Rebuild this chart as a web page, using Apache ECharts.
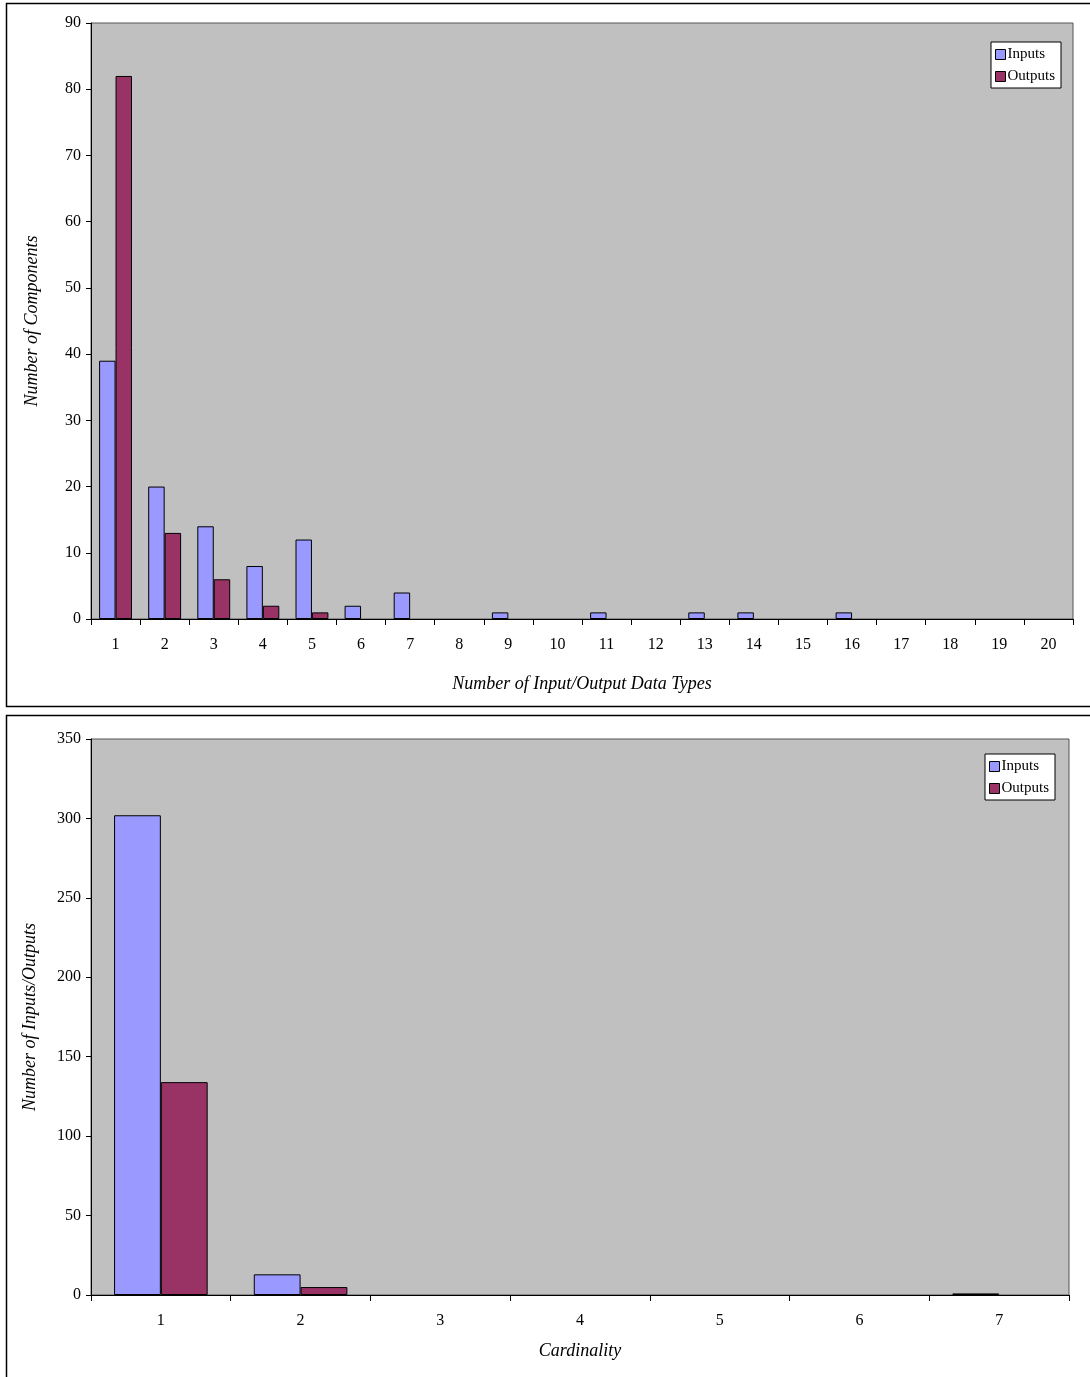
<!DOCTYPE html>
<html>
<head>
<meta charset="utf-8">
<script src="https://cdn.jsdelivr.net/npm/echarts@6/dist/echarts.min.js"></script>
<style>
  html, body { margin: 0; padding: 0; background: #fff; }
  #chart { width: 1090px; height: 1377px; }
</style>
</head>
<body>
<div id="chart"></div>
<script>
// Distribution of data type counts per component
const typeCountCategories = ['1','2','3','4','5','6','7','8','9','10','11','12','13','14','15','16','17','18','19','20'];
const typeCountInputs  = [39, 20, 14, 8, 12, 2, 4, 0, 1, 0, 1, 0, 1, 1, 0, 1, 0, 0, 0, 0];
const typeCountOutputs = [82, 13, 6, 2, 1, 0, 0, 0, 0, 0, 0, 0, 0, 0, 0, 0, 0, 0, 0, 0];

// Cardinality of inputs / outputs
const cardinalityCategories = ['1','2','3','4','5','6','7'];
const cardinalityInputs  = [302, 13, 0, 0, 0, 0, 1];
const cardinalityOutputs = [134, 5, 0, 0, 0, 0, 0];

const FONT = '"Liberation Serif", "Times New Roman", serif';
const INPUT_COLOR = '#9999FF';
const OUTPUT_COLOR = '#993366';

// Empty counts leave the slot blank instead of drawing a flat outlined bar
const blankZeros = arr => arr.map(v => (v === 0 ? null : v));

function xAxisFor(gridIndex, data, name, nameGap, margin) {
  return {
    type: 'category', gridIndex, data,
    name, nameLocation: 'middle', nameGap,
    nameTextStyle: { fontFamily: FONT, fontStyle: 'italic', fontSize: 18, color: '#000' },
    axisLine: { lineStyle: { color: '#000', width: 1 } },
    axisTick: { show: true, length: 6, lineStyle: { color: '#000' } },
    axisLabel: { fontFamily: FONT, fontSize: 16, color: '#000', margin },
    splitLine: { show: false }
  };
}
function yAxisFor(gridIndex, max, interval, name, nameGap) {
  return {
    type: 'value', gridIndex, min: 0, max, interval,
    name, nameLocation: 'middle', nameGap,
    nameTextStyle: { fontFamily: FONT, fontStyle: 'italic', fontSize: 18, color: '#000' },
    axisLine: { show: true, lineStyle: { color: '#000', width: 1 } },
    axisTick: { show: true, length: 5, lineStyle: { color: '#000' } },
    axisLabel: { fontFamily: FONT, fontSize: 16, color: '#000', margin: 10 },
    splitLine: { show: false }
  };
}
function barSeries(name, xi, yi, data, color) {
  return {
    type: 'bar', name, xAxisIndex: xi, yAxisIndex: yi, data: blankZeros(data),
    barGap: '0%', barCategoryGap: '33%',
    itemStyle: { color, borderColor: '#000', borderWidth: 1 },
    emphasis: { disabled: true },
    animation: false
  };
}
function legendAt(left, top) {
  return {
    orient: 'vertical', left, top,
    data: [
      { name: 'Inputs', itemStyle: { color: INPUT_COLOR, borderColor: '#000', borderWidth: 1 } },
      { name: 'Outputs', itemStyle: { color: OUTPUT_COLOR, borderColor: '#000', borderWidth: 1 } }
    ],
    icon: 'rect', itemWidth: 10, itemHeight: 10, itemGap: 7,
    padding: [5, 6, 4, 4],
    backgroundColor: '#fff', borderColor: '#000', borderWidth: 1,
    textStyle: { fontFamily: FONT, fontSize: 15, color: '#000', padding: [0, 0, 0, -3] },
    selectedMode: false
  };
}

const chart = echarts.init(document.getElementById('chart'), null, { renderer: 'canvas' });
chart.setOption({
  animation: false,
  backgroundColor: '#fff',
  graphic: [
    { type: 'rect', shape: { x: 6.5, y: 3.5, width: 1100, height: 703 }, style: { fill: 'none', stroke: '#000', lineWidth: 1.5 }, silent: true },
    { type: 'rect', shape: { x: 6.5, y: 715.5, width: 1100, height: 700 }, style: { fill: 'none', stroke: '#000', lineWidth: 1.5 }, silent: true }
  ],
  grid: [
    { left: 91, top: 23, width: 982, height: 596, show: true, backgroundColor: '#C0C0C0', borderColor: '#555', borderWidth: 1 },
    { left: 91, top: 739, width: 978, height: 556, show: true, backgroundColor: '#C0C0C0', borderColor: '#555', borderWidth: 1 }
  ],
  legend: [legendAt(991, 42), legendAt(985, 754)],
  xAxis: [
    xAxisFor(0, typeCountCategories, 'Number of Input/Output Data Types', 56, 18),
    xAxisFor(1, cardinalityCategories, 'Cardinality', 47, 18)
  ],
  yAxis: [
    yAxisFor(0, 90, 10, 'Number of Components', 50),
    yAxisFor(1, 350, 50, 'Number of Inputs/Outputs', 52)
  ],
  series: [
    barSeries('Inputs', 0, 0, typeCountInputs, INPUT_COLOR),
    barSeries('Outputs', 0, 0, typeCountOutputs, OUTPUT_COLOR),
    barSeries('Inputs', 1, 1, cardinalityInputs, INPUT_COLOR),
    barSeries('Outputs', 1, 1, cardinalityOutputs, OUTPUT_COLOR)
  ]
});
</script>
</body>
</html>
